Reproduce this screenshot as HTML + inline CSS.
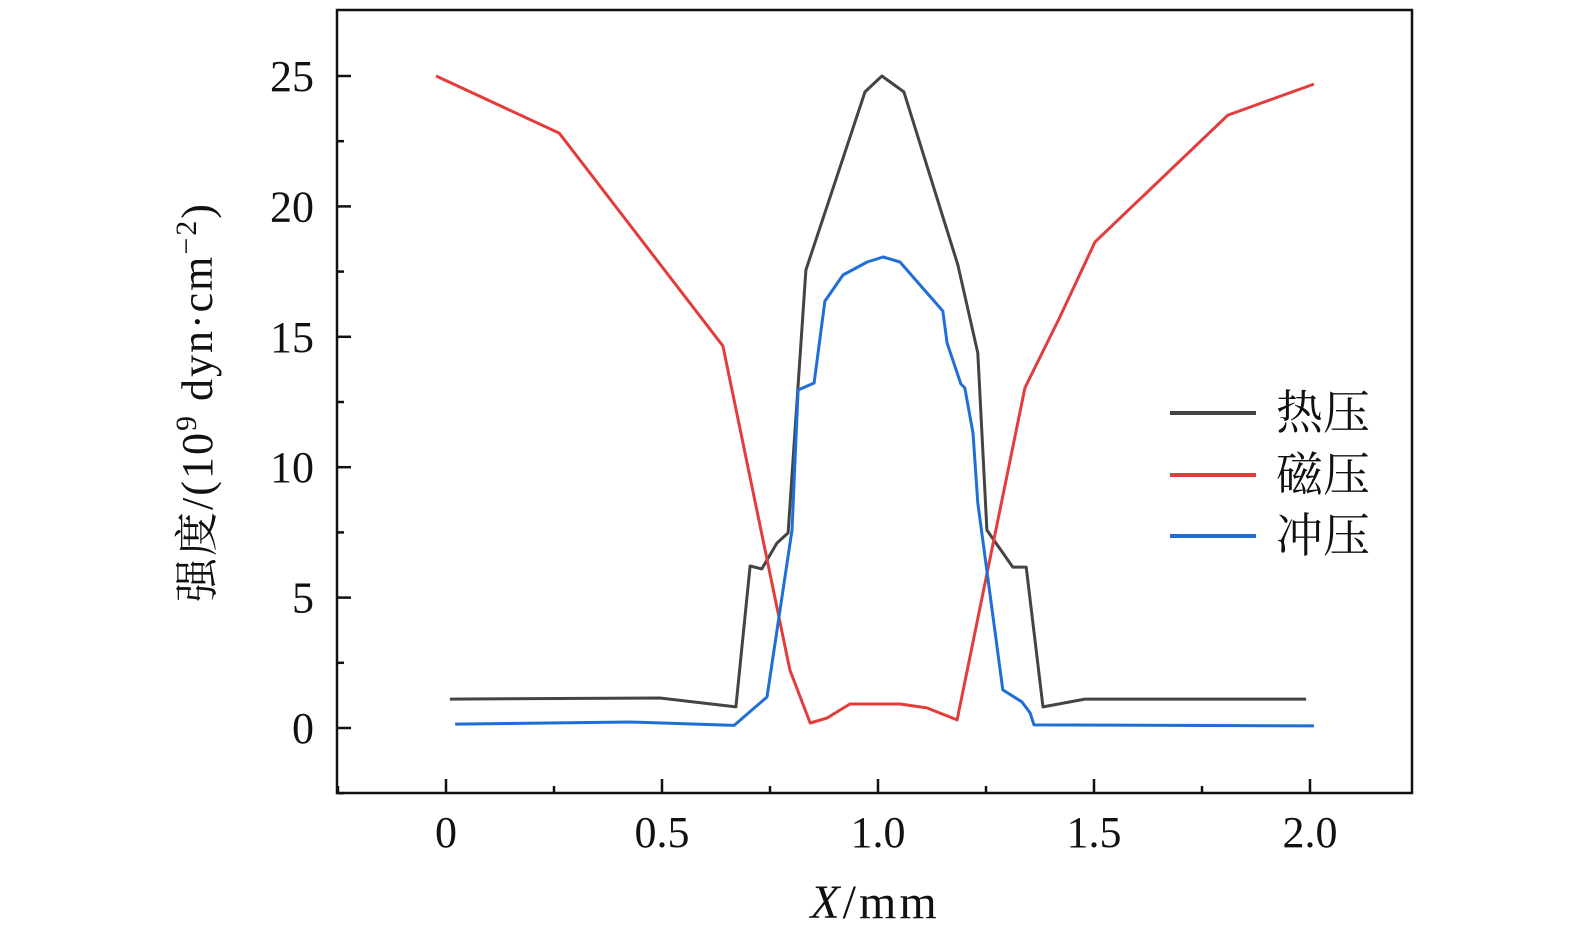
<!DOCTYPE html>
<html><head><meta charset="utf-8">
<style>
html,body{margin:0;padding:0;background:#fff;overflow:hidden;width:1575px;height:945px;}
svg{display:block;}
text{font-family:"Liberation Serif","Noto Serif CJK SC",serif;fill:#111;}
</style></head>
<body>
<svg id="chart" width="1575" height="945" viewBox="0 0 1575 945">
<rect x="337" y="10" width="1075" height="783" fill="none" stroke="#111" stroke-width="2.5"/>
<g id="ticks"></g>
<g id="series"></g>
<text x="875" y="918" font-size="48" text-anchor="middle" letter-spacing="3"><tspan font-style="italic">X</tspan>/mm</text>
<text transform="translate(212,402) rotate(-90)" font-size="44" text-anchor="middle" letter-spacing="2">强度/(10<tspan dy="-16" font-size="30">9</tspan><tspan dy="16"> dyn·cm</tspan><tspan dy="-16" font-size="30">−2</tspan><tspan dy="16">)</tspan></text>
<g>
<line x1="1170" y1="413" x2="1256" y2="413" stroke="#444" stroke-width="4"/>
<text x="1276" y="429" font-size="47">热压</text>
<line x1="1170" y1="475" x2="1256" y2="475" stroke="#e33c3c" stroke-width="4"/>
<text x="1276" y="491" font-size="47">磁压</text>
<line x1="1170" y1="536" x2="1256" y2="536" stroke="#1f6fd6" stroke-width="4"/>
<text x="1276" y="552" font-size="47">冲压</text>
</g>
</svg>
<script>
const xTicks=[0,0.5,1.0,1.5,2.0];
const xTickLabels=["0","0.5","1.0","1.5","2.0"];
const yTicks=[0,5,10,15,20,25];
const yTickLabels=["0","5","10","15","20","25"];
const thermalX=[0.009,0.495,0.671,0.704,0.731,0.766,0.792,0.833,0.970,1.009,1.060,1.185,1.231,1.252,1.312,1.343,1.382,1.479,1.991];
const thermalY=[1.11,1.15,0.81,6.21,6.10,7.09,7.48,17.56,24.39,25.0,24.39,17.75,14.38,7.59,6.17,6.17,0.81,1.11,1.11];
const ramX=[0.021,0.426,0.667,0.743,0.801,0.815,0.852,0.877,0.919,0.975,1.012,1.051,1.150,1.160,1.192,1.201,1.220,1.231,1.289,1.333,1.352,1.361,2.009];
const ramY=[0.15,0.23,0.1,1.19,7.59,12.96,13.23,16.37,17.37,17.87,18.06,17.87,15.99,14.76,13.19,13.04,11.31,8.63,1.46,1.00,0.58,0.12,0.08];
const magX=[-0.023,0.262,0.641,0.796,0.843,0.882,0.935,1.051,1.113,1.183,1.340,1.421,1.502,1.810,2.009];
const magY=[25.0,22.81,14.65,2.22,0.19,0.38,0.92,0.92,0.77,0.31,13.04,15.76,18.63,23.50,24.69];

const NS="http://www.w3.org/2000/svg";
const X0=337,X1=1412,Y0=10,Y1=793;
function sx(v){return 446+v*432;}
function sy(v){return 728-v*26.08;}
const tg=document.getElementById('ticks');
const sg=document.getElementById('series');
function mk(tag,attrs,parent){const e=document.createElementNS(NS,tag);for(const k in attrs)e.setAttribute(k,attrs[k]);parent.appendChild(e);return e;}
xTicks.forEach((v,i)=>{
  const l=mk('line',{x1:sx(v),x2:sx(v),y1:Y1,y2:Y1-14,stroke:'#111','stroke-width':2.5},tg);
  
  
  const t=mk('text',{x:sx(v),y:847,'font-size':44,'text-anchor':'middle'},tg);
  t.textContent=xTickLabels[i];
  
  
  if(i<xTicks.length-1){
    const m=mk('line',{x1:sx(v+0.25),x2:sx(v+0.25),y1:Y1,y2:Y1-7,stroke:'#111','stroke-width':2.5},tg);
    
    
  }
});
[-0.25].forEach(v=>{
  const m=mk('line',{x1:sx(v),x2:sx(v),y1:Y1,y2:Y1-7,stroke:'#111','stroke-width':2.5},tg);
  
  
});
yTicks.forEach((v,i)=>{
  const l=mk('line',{x1:X0,x2:X0+14,y1:sy(v),y2:sy(v),stroke:'#111','stroke-width':2.5},tg);
  
  
  const t=mk('text',{x:314,y:sy(v)+15,'font-size':44,'text-anchor':'end'},tg);
  t.textContent=yTickLabels[i];
  
  
});
[-2.5,2.5,7.5,12.5,17.5,22.5].forEach(v=>{
  const m=mk('line',{x1:X0,x2:X0+7,y1:sy(v),y2:sy(v),stroke:'#111','stroke-width':2.5},tg);
  
  
});
function series(xs,ys,color,name){
  const pts=xs.map((x,i)=>sx(x).toFixed(1)+','+sy(ys[i]).toFixed(1)).join(' ');
  const p=mk('polyline',{points:pts,fill:'none',stroke:color,'stroke-width':3,'stroke-linejoin':'round'},sg);
  
  
}
series(thermalX,thermalY,'#444444','thermal-pressure-line');
series(magX,magY,'#e33c3c','magnetic-pressure-line');
series(ramX,ramY,'#1f6fd6','ram-pressure-line');
</script>
</body></html>
